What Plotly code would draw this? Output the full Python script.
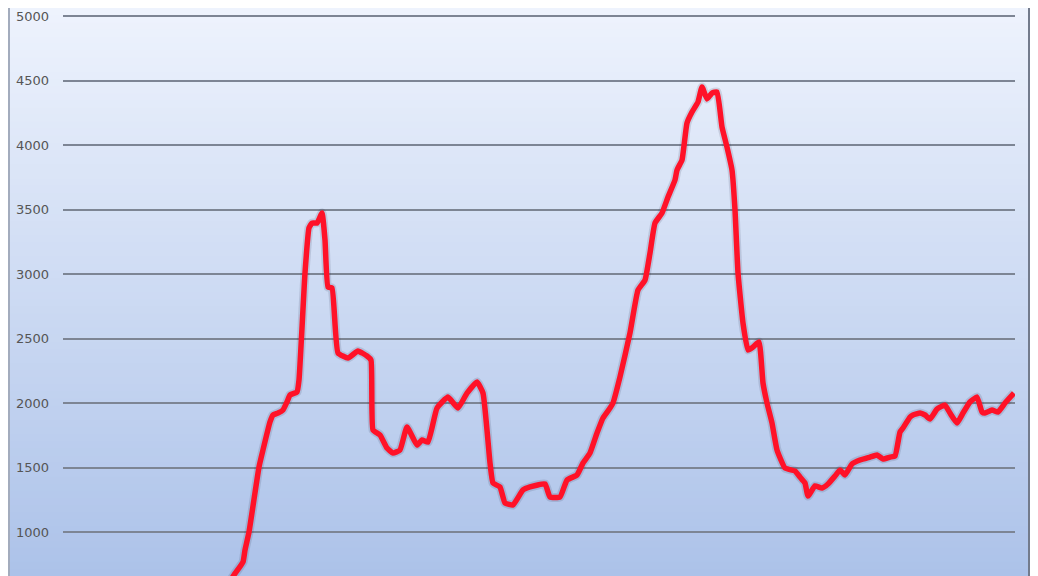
import plotly.graph_objects as go

# time index (weeks) and values
weeks = [
    0, 30, 60, 90, 120, 150, 165, 171, 180, 182,
    186, 196, 200, 207, 210, 215, 220, 224, 227, 234,
    236, 242, 246, 249, 254, 259, 262, 265, 269, 275,
    285, 295, 304, 308, 310, 317, 324, 330, 337, 344,
    354, 359, 365, 374, 385, 395, 404, 414, 420, 427,
    430, 437, 442, 450, 460, 467, 482, 487, 497, 504,
    514, 520, 527, 534, 540, 547, 550, 557, 567, 575,
    582, 587, 592, 599, 605, 612, 614, 619, 624, 629,
    635, 639, 644, 649, 654, 659, 664, 669, 672, 675,
    680, 685, 690, 696, 700, 704, 709, 714, 722, 732,
    737, 742, 745, 752, 759, 765, 772, 777, 782, 789,
    797, 807, 814, 820, 827, 832, 837, 840, 847, 850,
    857, 862, 867, 874, 882, 887, 894, 900, 907, 914,
    919, 922, 929, 935, 942, 951,
]
values = [
    430, 460, 440, 420, 450, 520, 600, 667, 767, 860,
    1000, 1504, 1636, 1853, 1907, 1922, 1946, 2008, 2062, 2085,
    2178, 3008, 3357, 3395, 3395, 3473, 3264, 2899, 2891, 2388,
    2349, 2403, 2364, 2333, 1791, 1752, 1651, 1612, 1636, 1814,
    1674, 1713, 1698, 1961, 2046, 1961, 2077, 2163, 2077, 1535,
    1380, 1349, 1225, 1209, 1326, 1349, 1372, 1271, 1271, 1403,
    1442, 1535, 1612, 1767, 1884, 1961, 2000, 2202, 2543, 2876,
    2953, 3163, 3395, 3473, 3597, 3729, 3806, 3884, 4171, 4256,
    4333, 4450, 4357, 4403, 4411, 4140, 3984, 3806, 3496, 3008,
    2620, 2411, 2434, 2473, 2155, 2000, 1845, 1636, 1496, 1473,
    1426, 1380, 1279, 1357, 1341, 1372, 1434, 1481, 1442, 1527,
    1558, 1581, 1597, 1566, 1581, 1589, 1775, 1806, 1891, 1907,
    1922, 1907, 1876, 1953, 1984, 1922, 1845, 1922, 2008, 2046,
    1930, 1922, 1946, 1930, 2000, 2077,
]

tick_vals = [1000, 1500, 2000, 2500, 3000, 3500, 4000, 4500, 5000]
tick_text = ["1000", "1500", "2000", "2500", "3000", "3500", "4000", "4500", "5000"]

fig = go.Figure()

# soft shadow under the line
fig.add_trace(go.Scatter(x=weeks, y=values, mode="lines",
                         line=dict(color="rgba(30,30,60,0.13)", width=9, shape="spline", smoothing=0.4),
                         hoverinfo="skip", showlegend=False))
fig.add_trace(go.Scatter(x=weeks, y=values, mode="lines",
                         line=dict(color="#ff1228", width=5.5, shape="spline", smoothing=0.4),
                         showlegend=False))

# gradient background built from horizontal strips
L, R, T, B = 55, 31, 0, 8
W = 1038 - L - R
shapes = []
n = 80
top = (238, 243, 253)
bot = (172, 194, 233)
for i in range(n):
    f0 = i / n
    f1 = (i + 1) / n
    f = f0 + 0.5 / n
    c = tuple(round(bot[k] + (top[k] - bot[k]) * f) for k in range(3))
    shapes.append(dict(type="rect", xref="paper", yref="paper",
                       x0=-L / W, x1=(1038 - L) / W, y0=f0, y1=f1 + 0.002,
                       fillcolor="rgb(%d,%d,%d)" % c, line=dict(width=0), layer="below"))
# left frame band
shapes.append(dict(type="rect", xref="paper", yref="paper",
                   x0=-L / W, x1=(2 - L) / W, y0=0, y1=1.02,
                   fillcolor="#a3acbd", line=dict(width=0), layer="below"))
# right frame band
shapes.append(dict(type="rect", xref="paper", yref="paper",
                   x0=(1020 - L) / W, x1=(1032 - L) / W, y0=0, y1=1.02,
                   fillcolor="#737b8c", line=dict(width=0), layer="above"))

fig.update_layout(
    width=1038, height=576,
    margin=dict(l=L, r=R, t=T, b=B, autoexpand=False),
    paper_bgcolor="#dfe7f6",
    plot_bgcolor="rgba(0,0,0,0)",
    shapes=shapes,
    xaxis=dict(range=[0, 952], showgrid=False, zeroline=False, showticklabels=False,
               ticks="", showline=False),
    yaxis=dict(range=[659, 5062], tickvals=tick_vals, ticktext=tick_text,
               showgrid=True, gridcolor="#7d8594", gridwidth=1.5, zeroline=False,
               showline=False, ticks="", ticklabelstandoff=13,
               tickfont=dict(family="DejaVu Sans", size=13, color="#555555")),
)

fig.write_html("out.html")
